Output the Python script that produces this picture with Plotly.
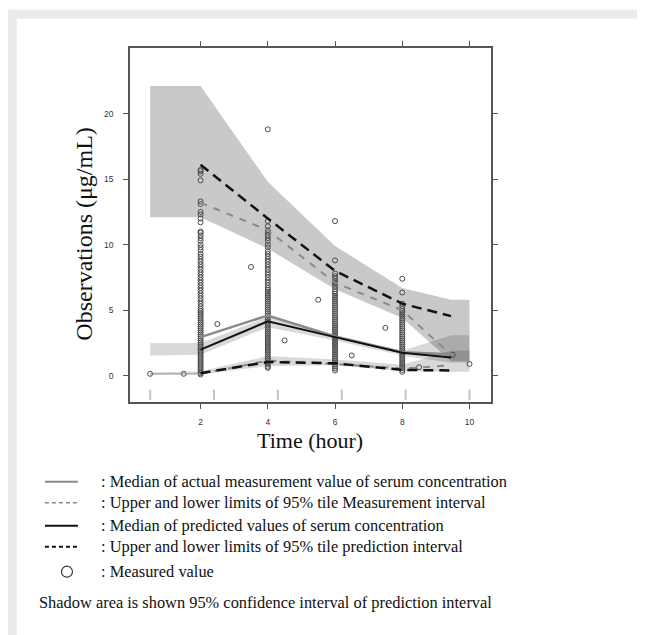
import plotly.graph_objects as go

# ---------------- data ----------------
bin_x = [2, 4, 6, 8, 9.45]
meas_median = [2.95, 4.6, 3.0, 1.8, 1.65]
pred_median = [2.0, 4.15, 2.95, 1.75, 1.4]
meas_upper = [13.2, 11.1, 7.1, 5.0, 1.6]
pred_upper = [16.1, 12.0, 8.0, 5.5, 4.55]
meas_lower = [0.15, 1.15, 0.9, 0.55, 0.8]
pred_lower = [0.2, 1.05, 0.95, 0.45, 0.4]

first_bin_x = [0.5, 1.5, 2.0]
first_bin_y = [0.15, 0.15, 0.15]

band_x = [0.5, 2, 4, 6, 8, 9.45, 10]
upper_ci_hi = [22.1, 22.1, 14.8, 9.9, 6.7, 5.8, 5.8]
upper_ci_lo = [12.1, 12.1, 9.7, 6.6, 4.4, 1.1, 1.1]
median_ci_hi = [2.5, 2.5, 4.5, 3.1, 1.9, 3.1, 3.1]
median_ci_lo = [1.55, 1.6, 3.7, 2.7, 1.55, 1.0, 1.0]
lower_ci_hi = [0.25, 0.35, 1.5, 1.25, 0.85, 1.9, 1.9]
lower_ci_lo = [0.05, 0.1, 0.75, 0.8, 0.35, 0.3, 0.3]

bin_edges = [0.5, 2.4, 4.3, 6.2, 8.1, 10.0]

obs_t2 = [0.1, 0.2, 0.3, 0.45, 0.6, 0.75, 0.9, 1.05, 1.2, 1.35, 1.5, 1.65, 1.8, 1.95, 2.1, 2.25,
          2.4, 2.55, 2.7, 2.85, 3.0, 3.15, 3.3, 3.45, 3.6, 3.75, 3.9, 4.05, 4.2, 4.35, 4.5, 4.65,
          4.8, 4.95, 5.1, 5.3, 5.5, 5.7, 5.9, 6.1, 6.3, 6.5, 6.7, 6.9, 7.1, 7.3, 7.5, 7.7, 7.9,
          8.1, 8.3, 8.5, 8.7, 8.9, 9.1, 9.3, 9.6, 9.8, 10.0, 10.3, 10.5, 10.7, 10.9, 11.0, 11.7,
          12.0, 12.3, 12.5, 13.1, 13.3, 14.9, 15.4, 15.6, 15.7]
obs_t4 = [0.6, 0.7, 0.85, 1.0, 1.15, 1.3, 1.45, 1.6, 1.75, 1.9, 2.05, 2.2, 2.35, 2.5, 2.65, 2.8,
          2.95, 3.1, 3.25, 3.4, 3.55, 3.7, 3.85, 4.0, 4.15, 4.3, 4.45, 4.6, 4.75, 4.9, 5.05, 5.2,
          5.35, 5.5, 5.65, 5.8, 5.95, 6.1, 6.25, 6.4, 6.55, 6.7, 6.9, 7.1, 7.3, 7.5, 7.7, 7.9,
          8.1, 8.3, 8.5, 8.7, 8.9, 9.1, 9.3, 9.5, 9.8, 10.0, 10.3, 10.5, 10.7, 10.9, 11.1, 11.4,
          11.8, 18.8]
obs_t6 = [0.4, 0.55, 0.7, 0.85, 1.0, 1.15, 1.3, 1.45, 1.6, 1.75, 1.9, 2.05, 2.2, 2.35, 2.5, 2.65,
          2.8, 2.95, 3.1, 3.25, 3.4, 3.55, 3.7, 3.85, 4.0, 4.15, 4.3, 4.45, 4.6, 4.75, 4.9, 5.05,
          5.2, 5.35, 5.5, 5.65, 5.8, 5.95, 6.1, 6.25, 6.4, 6.6, 6.8, 7.0, 7.1, 7.2, 7.4, 7.6, 7.8,
          8.8, 11.8]
obs_t8 = [0.3, 0.45, 0.6, 0.75, 0.9, 1.05, 1.2, 1.35, 1.5, 1.65, 1.8, 1.95, 2.1, 2.25, 2.4, 2.55,
          2.7, 2.85, 3.0, 3.15, 3.3, 3.45, 3.6, 3.75, 3.9, 4.05, 4.2, 4.35, 4.5, 4.65, 4.8, 4.95,
          5.1, 5.3, 5.5, 6.35, 7.4]
obs_other_x = [0.5, 1.5, 2.5, 3.5, 4.5, 5.5, 6.5, 7.5, 8.5, 9.5, 10.0]
obs_other_y = [0.15, 0.15, 3.95, 8.3, 2.7, 5.8, 1.55, 3.65, 0.65, 1.6, 0.9]

x_ticks = [2, 4, 6, 8, 10]
y_ticks = [0, 5, 10, 15, 20]

legend_items = [
    ": Median of actual measurement value of serum concentration",
    ": Upper and lower limits of 95% tile Measurement interval",
    ": Median of predicted values of serum concentration",
    ": Upper and lower limits of 95% tile prediction interval",
    ": Measured value",
]
footnote = "Shadow area is shown 95% confidence interval of prediction interval"

# ---------------- layout geometry ----------------
# page pixel positions; the page body has an 8px margin, so the figure starts at (8, 8)
OFF = 8
W, H = 645 - OFF, 635 - OFF
PL, PR, PT, PB = 130, 490.7, 48.3, 402.3   # plot box in page pixels


def px(x):
    return (x - PL) / (PR - PL)


def py(y):
    return (PB - y) / (PB - PT)


fig = go.Figure()


def band(xs, lo, hi, color):
    fig.add_trace(go.Scatter(
        x=list(xs) + list(xs)[::-1], y=list(hi) + list(lo)[::-1],
        fill="toself", fillcolor=color, line=dict(width=0), mode="lines",
        hoverinfo="skip", showlegend=False))


band(band_x, upper_ci_lo, upper_ci_hi, "rgba(0,0,0,0.21)")
band(band_x, median_ci_lo, median_ci_hi, "rgba(0,0,0,0.15)")
band(band_x, lower_ci_lo, lower_ci_hi, "rgba(0,0,0,0.15)")

# rug marks at bin boundaries
rx, ry = [], []
for e in bin_edges:
    rx += [e, e, None]
    ry += [-1.05, -1.85, None]
fig.add_trace(go.Scatter(x=rx, y=ry, mode="lines", line=dict(color="#c4c4c4", width=2),
                         showlegend=False, hoverinfo="skip"))

# observations
ox = [2] * len(obs_t2) + [4] * len(obs_t4) + [6] * len(obs_t6) + [8] * len(obs_t8) + obs_other_x
oy = obs_t2 + obs_t4 + obs_t6 + obs_t8 + obs_other_y
fig.add_trace(go.Scatter(x=ox, y=oy, mode="markers",
                         marker=dict(symbol="circle-open", size=5, color="#4a4a4a",
                                     line=dict(width=1, color="#4a4a4a")),
                         showlegend=False))

# first bin thin line
fig.add_trace(go.Scatter(x=first_bin_x, y=first_bin_y, mode="lines",
                         line=dict(color="#9a9a9a", width=1), showlegend=False))

# percentile lines
fig.add_trace(go.Scatter(x=bin_x, y=meas_median, mode="lines",
                         line=dict(color="#8a8a8a", width=2.5), showlegend=False))
fig.add_trace(go.Scatter(x=bin_x, y=pred_median, mode="lines",
                         line=dict(color="#111111", width=2), showlegend=False))
for ys in (meas_upper, meas_lower):
    fig.add_trace(go.Scatter(x=bin_x, y=ys, mode="lines",
                             line=dict(color="#8a8a8a", width=2, dash="7px,7px"), showlegend=False))
for ys in (pred_upper, pred_lower):
    fig.add_trace(go.Scatter(x=bin_x, y=ys, mode="lines",
                             line=dict(color="#111111", width=2.5, dash="10px,6px"), showlegend=False))

axis_common = dict(showline=True, linecolor="#555555", linewidth=1.5, mirror="allticks",
                   ticks="outside", ticklen=5, tickwidth=1.2, tickcolor="#555555",
                   showgrid=False, zeroline=False,
                   tickfont=dict(family="Liberation Sans, Arial", size=8.5, color="#333333"))

fig.update_xaxes(range=[-0.1, 10.64], tickvals=x_ticks, ticklabelstandoff=6, **axis_common)
fig.update_yaxes(range=[-2.0, 25.0], tickvals=y_ticks, ticklabelstandoff=8, **axis_common)

shapes = []
# outer light-grey frame
frame = "#ebebeb"
shapes.append(dict(type="rect", xref="paper", yref="paper", x0=px(8), x1=px(645), y0=py(10), y1=py(19),
                   fillcolor=frame, line=dict(width=0), layer="below"))
shapes.append(dict(type="rect", xref="paper", yref="paper", x0=px(8), x1=px(17), y0=py(10), y1=py(640),
                   fillcolor=frame, line=dict(width=0), layer="below"))
shapes.append(dict(type="rect", xref="paper", yref="paper", x0=px(642.3), x1=px(644), y0=py(10), y1=py(640),
                   fillcolor=frame, line=dict(width=0), layer="below"))

# legend samples
leg_y = [482, 503, 526, 547]
leg_styles = [("#8a8a8a", 2, "solid"), ("#8a8a8a", 1.6, "4px,3px"),
              ("#111111", 2, "solid"), ("#111111", 2, "4px,3px")]
for yy, (c, w, d) in zip(leg_y, leg_styles):
    shapes.append(dict(type="line", xref="paper", yref="paper", x0=px(45), x1=px(78),
                       y0=py(yy), y1=py(yy), line=dict(color=c, width=w, dash=d)))
shapes.append(dict(type="circle", xref="paper", yref="paper", x0=px(61.5), x1=px(72.5),
                   y0=py(577.5), y1=py(566.5), line=dict(color="#333333", width=1.2)))

annotations = []
serif = "Liberation Serif, Times New Roman, serif"
for yy, txt in zip(leg_y + [572], legend_items):
    annotations.append(dict(xref="paper", yref="paper", x=px(99), y=py(yy), text=txt,
                            showarrow=False, xanchor="left", yanchor="middle",
                            font=dict(family=serif, size=16.4, color="#111111")))
annotations.append(dict(xref="paper", yref="paper", x=px(37), y=py(603), text=footnote,
                        showarrow=False, xanchor="left", yanchor="middle",
                        font=dict(family=serif, size=16.4, color="#111111")))
annotations.append(dict(xref="paper", yref="paper", x=px(310), y=py(441), text="Time (hour)",
                        showarrow=False, xanchor="center", yanchor="middle",
                        font=dict(family=serif, size=22, color="#111111")))
annotations.append(dict(xref="paper", yref="paper", x=px(84), y=py(234), text="Observations (μg/mL)",
                        showarrow=False, xanchor="center", yanchor="middle", textangle=-90,
                        font=dict(family=serif, size=24, color="#111111")))

fig.update_layout(width=W, height=H,
                  margin=dict(l=PL - OFF, r=645 - PR, t=PT - OFF, b=635 - PB, autoexpand=False),
                  plot_bgcolor="white", paper_bgcolor="white", showlegend=False,
                  shapes=shapes, annotations=annotations)

fig.write_html("out.html")
